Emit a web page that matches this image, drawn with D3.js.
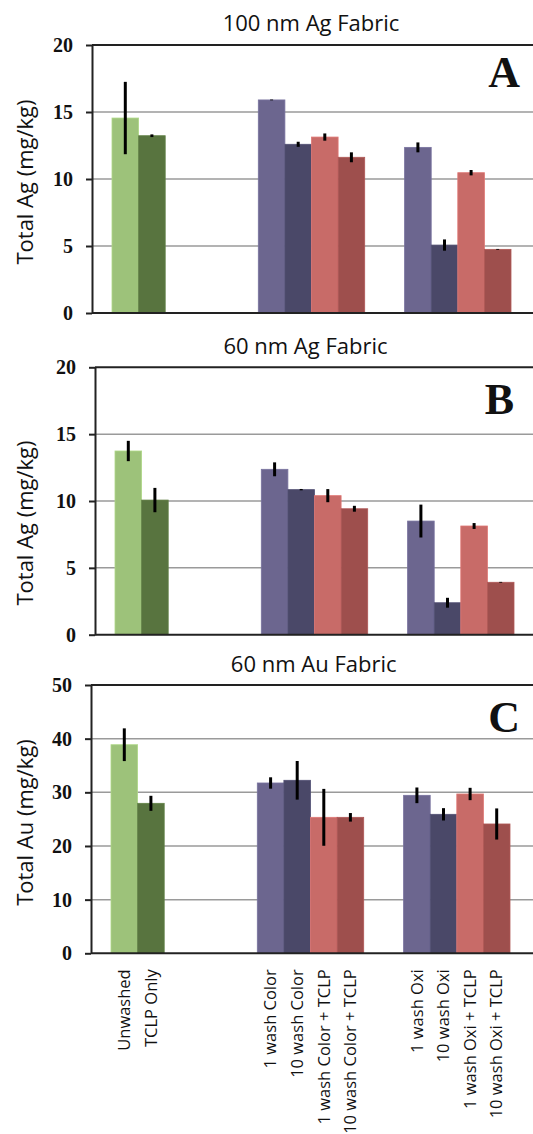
<!DOCTYPE html>
<html>
<head>
<meta charset="utf-8">
<script src="https://cdn.jsdelivr.net/npm/d3@7"></script>
<style>
  body { margin: 0; background: #fff; }
  svg { display: block; }
  .tick text { font-family: "Liberation Serif", "Times New Roman", serif; font-weight: bold; }
</style>
</head>
<body>
<div class="Chart"></div>
<script>
// categories (one bar each)
const categories = ['Unwashed', 'TCLP Only',
  '1 wash Color', '10 wash Color', '1 wash Color + TCLP', '10 wash Color + TCLP',
  '1 wash Oxi', '10 wash Oxi', '1 wash Oxi + TCLP', '10 wash Oxi + TCLP']

// panel A: 100 nm Ag fabric (mg/kg)
const ag100 = [14.55, 13.23, 15.9, 12.59, 13.13, 11.62, 12.36, 5.07, 10.47, 4.75]
const ag100Err = [2.7, 0.1, 0.03, 0.19, 0.27, 0.37, 0.37, 0.42, 0.2, 0.03]
// panel B: 60 nm Ag fabric
const ag60 = [13.74, 10.07, 12.37, 10.85, 10.4, 9.42, 8.5, 2.39, 8.13, 3.92]
const ag60Err = [0.76, 0.91, 0.52, 0.05, 0.49, 0.22, 1.23, 0.37, 0.22, 0.03]
// panel C: 60 nm Au fabric
const au60 = [38.87, 27.95, 31.74, 32.24, 25.34, 25.34, 29.44, 25.9, 29.69, 24.1]
const au60Err = [3.05, 1.4, 1.06, 3.6, 5.3, 0.8, 1.46, 1.15, 1.15, 2.9]

const panelTitles = ['100 nm Ag Fabric', '60 nm Ag Fabric', '60 nm Au Fabric']
const yTitles = ['Total Ag (mg/kg)', 'Total Ag (mg/kg)', 'Total Au (mg/kg)']
const panelLetters = ['A', 'B', 'C']
const agTicks = [0, 5, 10, 15, 20]
const auTicks = [0, 10, 20, 30, 40, 50]

const barColors = ['#9dc27a', '#58743f', '#6c668f', '#4a4868', '#c86b68', '#9e4f4d',
  '#6c668f', '#4a4868', '#c86b68', '#9e4f4d']

const W = 533, H = 1134
const svg = d3.select('.Chart').append('svg')
  .attr('width', W)
  .attr('height', H)

// layout for each panel
const panels = [
  {values: ag100, errs: ag100Err, ticks: agTicks, left: 92, top: 45, bottom: 313, titleX: 311, titleY: 30.5, yLabelY: 182, letterX: 520, letterY: 87},
  {values: ag60, errs: ag60Err, ticks: agTicks, left: 95, top: 367.3, bottom: 634.7, titleX: 305.5, titleY: 354.3, yLabelY: 523, letterX: 514, letterY: 414},
  {values: au60, errs: au60Err, ticks: auTicks, left: 91, top: 685, bottom: 953.3, titleX: 313.7, titleY: 671.7, yLabelY: 822.5, letterX: 520, letterY: 731.5}
]

// bar slot index: groups separated by empty space
function slotOf(i){
  if(i < 2) return i
  if(i < 6) return i + 3.5
  return i + 5
}

panels.forEach((p, k) => {
  const g = svg.append('g')

  const xScale = d3.scaleLinear()
    .domain([0, 15])
    .range([p.left + 20, p.left + 20 + 15 * 26.6])

  const yScale = d3.scaleLinear()
    .domain([0, d3.max(p.ticks)])
    .range([p.bottom, p.top])

  // grid lines
  g.append('g')
    .selectAll('line')
    .data(p.ticks.slice(1, -1))
    .join('line')
    .attr('x1', p.left)
    .attr('x2', W + 5)
    .attr('y1', d => yScale(d))
    .attr('y2', d => yScale(d))
    .attr('stroke', '#9a9a9a')
    .attr('stroke-width', 1.5)

  // top border
  g.append('line')
    .attr('x1', p.left).attr('x2', W + 5)
    .attr('y1', yScale(d3.max(p.ticks))).attr('y2', yScale(d3.max(p.ticks)))
    .attr('stroke', '#222').attr('stroke-width', 2)

  // bars
  g.append('g')
    .selectAll('rect')
    .data(p.values)
    .join('rect')
    .attr('x', (d, i) => xScale(slotOf(i)))
    .attr('width', xScale(1) - xScale(0))
    .attr('y', d => yScale(d))
    .attr('height', d => yScale(0) - yScale(d))
    .attr('fill', (d, i) => barColors[i])
    .attr('stroke', (d, i) => d3.color(barColors[i]).brighter(0.3))
    .attr('stroke-width', 0.8)

  // error bars
  g.append('g')
    .selectAll('line')
    .data(p.values)
    .join('line')
    .attr('x1', (d, i) => xScale(slotOf(i) + 0.5))
    .attr('x2', (d, i) => xScale(slotOf(i) + 0.5))
    .attr('y1', (d, i) => yScale(d + p.errs[i]))
    .attr('y2', (d, i) => yScale(d - p.errs[i]))
    .attr('stroke', '#000')
    .attr('stroke-width', 3)

  // bottom axis line
  g.append('line')
    .attr('x1', p.left).attr('x2', W + 5)
    .attr('y1', yScale(0)).attr('y2', yScale(0))
    .attr('stroke', '#222').attr('stroke-width', 2)

  // y axis
  const yAxis = d3.axisLeft(yScale)
    .tickValues(p.ticks)
    .tickSize(6)
    .tickSizeOuter(0)
    .tickPadding(13)
    .tickFormat(d3.format('d'))

  const ax = g.append('g')
    .attr('transform', `translate(${p.left},0)`)
    .call(yAxis)
  ax.select('.domain').attr('stroke', '#222').attr('stroke-width', 2)
  ax.selectAll('.tick line').attr('stroke', '#222').attr('stroke-width', 2)
  ax.selectAll('.tick text')
    .attr('fill', '#111')
    .style('font-size', '20px')

  // title
  g.append('text')
    .attr('x', p.titleX)
    .attr('y', p.titleY)
    .attr('text-anchor', 'middle')
    .style('font-family', '"Open Sans", sans-serif')
    .style('font-size', '22px')
    .attr('fill', '#111')
    .text(panelTitles[k])

  // y title
  g.append('text')
    .attr('transform', `translate(33,${p.yLabelY}) rotate(-90)`)
    .attr('text-anchor', 'middle')
    .style('font-family', '"Open Sans", sans-serif')
    .style('font-size', '22px')
    .attr('fill', '#111')
    .text(yTitles[k])

  // panel letter
  g.append('text')
    .attr('x', p.letterX)
    .attr('y', p.letterY)
    .attr('text-anchor', 'end')
    .style('font-family', '"Liberation Serif", "Times New Roman", serif')
    .style('font-weight', 'bold')
    .style('font-size', '44px')
    .attr('fill', '#111')
    .text(panelLetters[k])

  // category labels under the last panel
  if(k === panels.length - 1){
    g.append('g')
      .selectAll('text')
      .data(categories)
      .join('text')
      .attr('transform', (d, i) => `translate(${xScale(slotOf(i) + 0.5)},${p.bottom + 16}) rotate(-90)`)
      .attr('text-anchor', 'end')
      .attr('dy', '0.35em')
      .style('font-family', '"Open Sans", sans-serif')
      .style('font-size', '16.5px')
      .attr('fill', '#111')
      .text(d => d)
  }
})
</script>
</body>
</html>
